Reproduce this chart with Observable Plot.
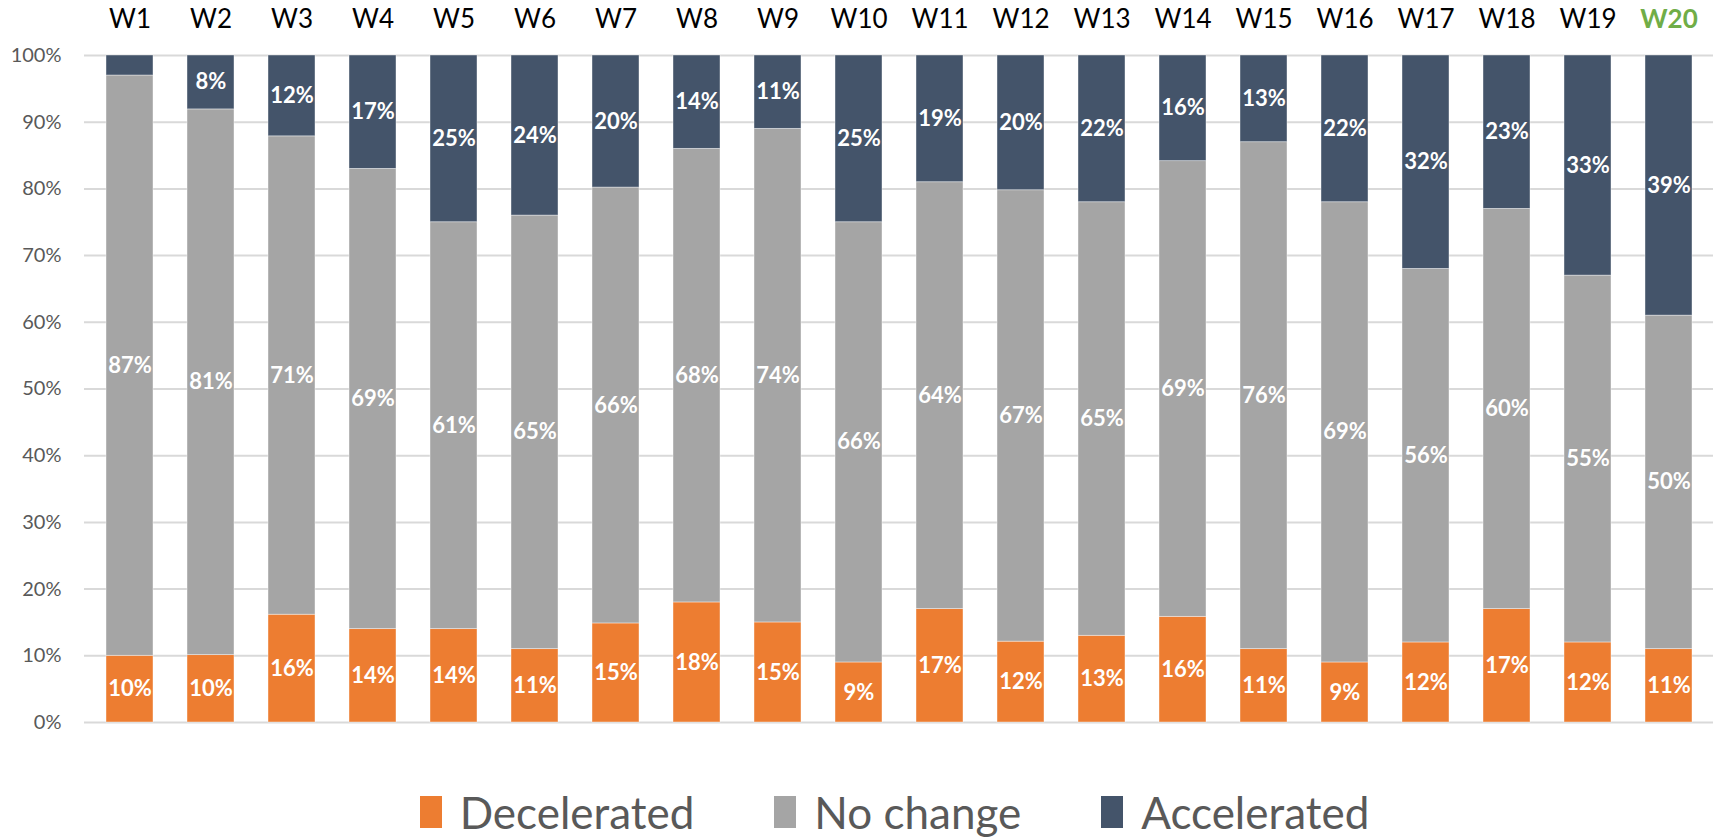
<!DOCTYPE html>
<html>
<head>
<meta charset="utf-8">
<script src="https://cdn.jsdelivr.net/npm/d3@7"></script>
<script src="https://cdn.jsdelivr.net/npm/@observablehq/plot@0.6"></script>
<style>
  html, body { margin: 0; padding: 0; background: #fff; }
  #chart svg { display: block; }
  .lg-swatches { justify-content: center; font-family: Lato, sans-serif !important; font-size: 44px !important; color: #595959; padding-left: 76px; padding-right: 6px; margin-top: 26px; margin-bottom: 0 !important; }
  .lg-swatches-wrap .lg-swatch { margin: 0 40px !important; }
  .lg-swatch > svg { margin-right: 18px !important; }
</style>
</head>
<body>
<div id="chart"></div>
<script>
const weeks = ["W1","W2","W3","W4","W5","W6","W7","W8","W9","W10","W11","W12","W13","W14","W15","W16","W17","W18","W19","W20"];
const series = ["Decelerated", "No change", "Accelerated"];
const decelerated = [10,10,16,14,14,11,15,18,15,9,17,12,13,16,11,9,12,17,12,11];
const noChange    = [87,81,71,69,61,65,66,68,74,66,64,67,65,69,76,69,56,60,55,50];
const accelerated = [3,8,12,17,25,24,20,14,11,25,19,20,22,16,13,22,32,23,33,39];
const yTicks = [0,0.1,0.2,0.3,0.4,0.5,0.6,0.7,0.8,0.9,1];
const highlightWeek = "W20";
const colors = ["#ed7d31", "#a5a5a5", "#44546a"];

const valuesBySeries = [decelerated, noChange, accelerated];
const rows = [];
weeks.forEach((w, i) => {
  series.forEach((s, j) => rows.push({week: w, series: s, value: valuesBySeries[j][i]}));
});

const font = "Lato, 'Open Sans', sans-serif";

const chart = Plot.plot({
  width: 1719,
  height: 760,
  marginLeft: 84,
  marginRight: 6,
  marginTop: 55,
  marginBottom: 38,
  style: {fontFamily: font, background: "#fff"},
  x: {domain: weeks, paddingInner: 0.42, paddingOuter: 0.21, axis: null, label: null},
  y: {domain: [0, 1], axis: null, label: null},
  color: {domain: series, range: colors},
  marks: [
    Plot.gridY(yTicks, {stroke: "#d9d9d9", strokeOpacity: 1, strokeWidth: 2}),
    Plot.axisY(yTicks, {tickSize: 0, tickPadding: 23, tickFormat: d3.format(".0%"), fontSize: 20, fill: "#595959", label: null}),
    Plot.barY(rows, Plot.stackY({offset: "normalize"}, {
      x: "week", y: "value", fill: "series",
      stroke: "#ffffff", strokeWidth: 0.8, strokeOpacity: 0.5
    })),
    Plot.text(rows, Plot.stackY({offset: "normalize"}, {
      x: "week", y: "value",
      text: d => d.value < 5 ? null : d.value + "%",
      fill: "#ffffff", fontWeight: "bold", fontSize: 22
    })),
    Plot.text(weeks.filter(w => w !== highlightWeek), {
      x: d => d, frameAnchor: "top", dy: -36, lineAnchor: "middle",
      fontSize: 26, fill: "#000000"
    }),
    Plot.text(weeks.filter(w => w === highlightWeek), {
      x: d => d, frameAnchor: "top", dy: -36, lineAnchor: "middle",
      fontSize: 26, fontWeight: "bold", fill: "#70ad47"
    })
  ]
});

document.getElementById("chart").appendChild(chart);

const legend = Plot.legend({
  color: {domain: series, range: colors},
  legend: "swatches",
  className: "lg",
  swatchWidth: 22,
  swatchHeight: 32
});
document.getElementById("chart").appendChild(legend);
</script>
</body>
</html>
